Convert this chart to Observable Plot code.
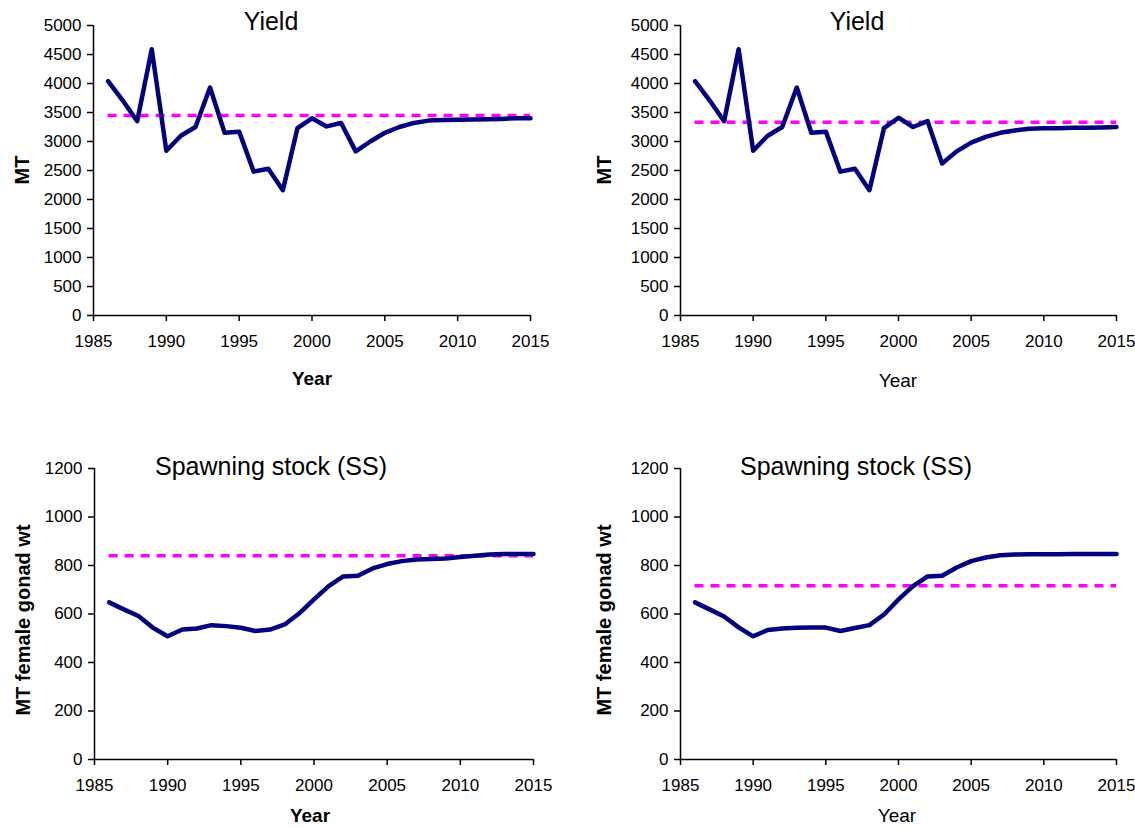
<!DOCTYPE html>
<html>
<head>
<meta charset="utf-8">
<script src="https://cdn.jsdelivr.net/npm/d3@7"></script>
<script src="https://cdn.jsdelivr.net/npm/@observablehq/plot@0.6"></script>
<style>
  body { margin: 0; background: #fff; font-family: "Liberation Sans", Arial, sans-serif; }
  #page { position: relative; width: 1135px; height: 828px; overflow: hidden; }
  .panel { position: absolute; }
  .panel svg { overflow: visible; }
  .lbl { position: absolute; white-space: nowrap; color: #000; line-height: 1; transform: translate(-50%, -50%); }
  .rot { transform: translate(-50%, -50%) rotate(-90deg); }
</style>
</head>
<body>
<div id="page"></div>
<script>
const years = [1986, 1987, 1988, 1989, 1990, 1991, 1992, 1993, 1994, 1995,
  1996, 1997, 1998, 1999, 2000, 2001, 2002, 2003, 2004, 2005,
  2006, 2007, 2008, 2009, 2010, 2011, 2012, 2013, 2014, 2015]

// yield, left and right scenario
const yieldA = [4040, 3710, 3350, 4590, 2840, 3100, 3250, 3930, 3150, 3170,
  2480, 2530, 2160, 3230, 3400, 3260, 3320, 2830, 3000, 3150,
  3250, 3320, 3360, 3370, 3375, 3380, 3385, 3390, 3400, 3400]
const yieldB = [4040, 3710, 3350, 4590, 2840, 3100, 3250, 3930, 3150, 3170,
  2480, 2530, 2160, 3230, 3410, 3250, 3350, 2620, 2830, 2980,
  3080, 3150, 3190, 3220, 3230, 3230, 3235, 3235, 3240, 3250]

// spawning stock (MT female gonad wt)
const ssA = [648, 619, 592, 543, 508, 536, 540, 554, 550, 543,
  530, 536, 557, 603, 660, 715, 755, 758, 788, 806,
  818, 825, 827, 829, 835, 840, 845, 847, 847, 847]
const ssB = [648, 619, 590, 545, 508, 534, 540, 543, 544, 544,
  530, 542, 554, 598, 660, 715, 755, 758, 792, 818,
  833, 842, 845, 846, 846, 846, 847, 847, 847, 847]

const refYieldA = 3450
const refYieldB = 3330
const refSsA = 840
const refSsB = 716

const yearTicks = [1985, 1990, 1995, 2000, 2005, 2010, 2015]
const yieldTicks = [0, 500, 1000, 1500, 2000, 2500, 3000, 3500, 4000, 4500, 5000]
const ssTicks = [0, 200, 400, 600, 800, 1000, 1200]

const page = document.getElementById('page')

function addLabel(text, x, y, size, weight, rotate) {
  let d = document.createElement('div')
  d.className = 'lbl' + (rotate ? ' rot' : '')
  d.textContent = text
  d.style.left = x + 'px'
  d.style.top = y + 'px'
  d.style.fontSize = size + 'px'
  d.style.fontWeight = weight
  page.appendChild(d)
}

function panel(p) {
  let data = years.map((year, i) => ({year: year, value: p.values[i]}))
  let refData = [{y: p.ref, x1: years[0], x2: years[years.length - 1]}]

  let chart = Plot.plot({
    width: p.width,
    height: p.height,
    marginLeft: p.ml,
    marginRight: p.mr,
    marginTop: p.mt,
    marginBottom: p.mb,
    style: {fontFamily: '"Liberation Sans", Arial, sans-serif', fontSize: '17px', color: '#000', background: 'none'},
    x: {domain: [1985, 2015]},
    y: {domain: [0, p.yMax]},
    marks: [
      Plot.axisX(yearTicks, {tickSize: 6, tickPadding: 13, strokeWidth: 1.5, tickFormat: d => String(d), label: null}),
      Plot.axisY(p.yTicks, {tickSize: 6, tickPadding: 6, strokeWidth: 1.5, tickFormat: d => String(d), label: null}),
      Plot.ruleX([1985], {y1: 0, y2: p.yMax, stroke: '#000', strokeWidth: 1.5}),
      Plot.ruleY([0], {stroke: '#000', strokeWidth: 1.5}),
      Plot.ruleY(refData, {y: 'y', x1: 'x1', x2: 'x2', stroke: '#ff00ff', strokeWidth: 3.5, strokeDasharray: '9,7'}),
      Plot.line(data, {x: 'year', y: 'value', stroke: '#000080', strokeWidth: 4.5, strokeLinejoin: 'round'}),
    ],
  })

  let holder = document.createElement('div')
  holder.className = 'panel'
  holder.style.left = p.left + 'px'
  holder.style.top = p.top + 'px'
  holder.appendChild(chart)
  page.appendChild(holder)

  addLabel(p.title, p.titleX, p.titleY, 25, 'normal')
  addLabel(p.ylabel, p.ylabelX, p.ylabelY, 20, 'bold', true)
  addLabel('Year', p.xlabelX, p.xlabelY, 19, p.xlabelWeight)
}

panel({values: yieldA, ref: refYieldA, yMax: 5000, yTicks: yieldTicks,
  left: 0, top: 0, width: 567, height: 400, ml: 93, mr: 37, mt: 25, mb: 85,
  title: 'Yield', titleX: 271, titleY: 21, ylabel: 'MT', ylabelX: 22, ylabelY: 170,
  xlabelX: 312, xlabelY: 378, xlabelWeight: 'bold'})

panel({values: yieldB, ref: refYieldB, yMax: 5000, yTicks: yieldTicks,
  left: 567, top: 0, width: 568, height: 400, ml: 113, mr: 19, mt: 25, mb: 85,
  title: 'Yield', titleX: 857, titleY: 21, ylabel: 'MT', ylabelX: 604, ylabelY: 170,
  xlabelX: 898, xlabelY: 380, xlabelWeight: 'normal'})

panel({values: ssA, ref: refSsA, yMax: 1200, yTicks: ssTicks,
  left: 0, top: 414, width: 567, height: 414, ml: 94, mr: 34, mt: 54, mb: 69,
  title: 'Spawning stock (SS)', titleX: 271, titleY: 466, ylabel: 'MT female gonad wt', ylabelX: 23, ylabelY: 620,
  xlabelX: 310, xlabelY: 815, xlabelWeight: 'bold'})

panel({values: ssB, ref: refSsB, yMax: 1200, yTicks: ssTicks,
  left: 567, top: 414, width: 568, height: 414, ml: 113, mr: 19, mt: 54, mb: 69,
  title: 'Spawning stock (SS)', titleX: 856, titleY: 466, ylabel: 'MT female gonad wt', ylabelX: 604, ylabelY: 620,
  xlabelX: 897, xlabelY: 815, xlabelWeight: 'normal'})
</script>
</body>
</html>
